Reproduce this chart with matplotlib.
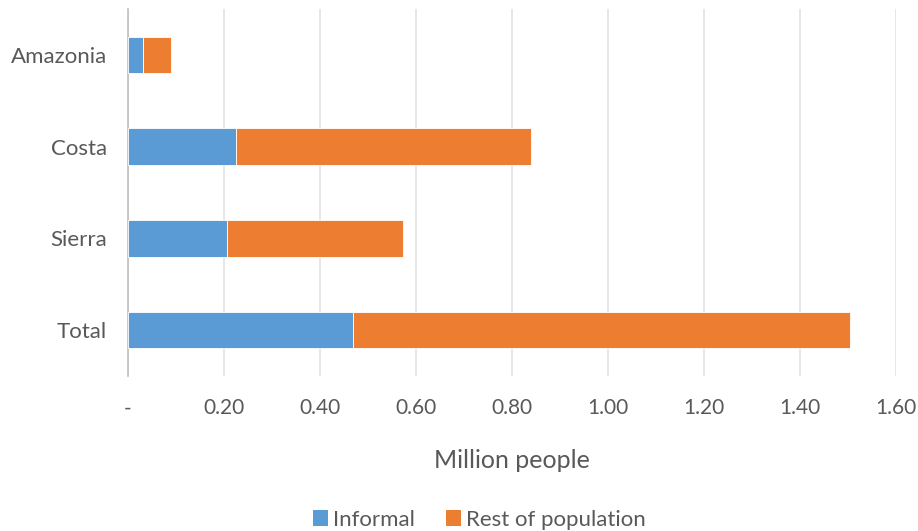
import matplotlib
matplotlib.use('Agg')
from matplotlib import pyplot
from matplotlib import patches

# data (million people)
regions = ['Amazonia', 'Costa', 'Sierra', 'Total']
informal = [0.032, 0.226, 0.207, 0.468]
rest_of_population = [0.057, 0.614, 0.365, 1.037]
x_ticks = [0.0, 0.2, 0.4, 0.6, 0.8, 1.0, 1.2, 1.4, 1.6]
x_tick_labels = ['-', '0.20', '0.40', '0.60', '0.80', '1.00', '1.20', '1.40', '1.60']

pyplot.rcParams['font.family'] = ['Lato', 'DejaVu Sans']
txt_color = '#595959'

fig = pyplot.figure(figsize=(9.18, 5.31), dpi=100)
ax = fig.add_axes([128/918, 1 - 376/531, (896-128)/918, (376-9)/531])

pos = list(range(len(regions)))[::-1]  # Amazonia at top
ax.barh(pos, informal, 0.4, color='#5B9BD5', edgecolor='white', linewidth=0.6, zorder=3)
ax.barh(pos, rest_of_population, 0.4, left=informal, color='#ED7D31', edgecolor='white', linewidth=0.6, zorder=3)

ax.set_xlim(0, 1.6)
ax.set_ylim(-0.5, 3.5)
ax.set_yticks(pos)
ax.set_yticklabels(regions, fontsize=16, color=txt_color)
ax.set_xticks(x_ticks)
ax.set_xticklabels(x_tick_labels, fontsize=15, color=txt_color)
ax.tick_params(axis='x', length=0, pad=16)
ax.tick_params(axis='y', length=0, pad=15)

ax.grid(axis='x', color='#E0E0E0', linewidth=1.1, zorder=0)
ax.set_axisbelow(True)

for s in ['top', 'right', 'bottom']:
    ax.spines[s].set_visible(False)
ax.spines['left'].set_color('#BFBFBF')
ax.spines['left'].set_linewidth(1.2)

ax.set_xlabel('Million people', fontsize=18, color=txt_color, labelpad=22)

legend_elements = [patches.Patch(facecolor='#5B9BD5', label='Informal'),
                   patches.Patch(facecolor='#ED7D31', label='Rest of population')]
leg = fig.legend(handles=legend_elements, loc='lower center', bbox_to_anchor=(0.522, -0.035), ncol=2,
                 frameon=False, fontsize=16, handlelength=0.7, handleheight=0.7,
                 handletextpad=0.2, columnspacing=1.4)
for t in leg.get_texts():
    t.set_color(txt_color)

pyplot.savefig('out.png', dpi=100)
